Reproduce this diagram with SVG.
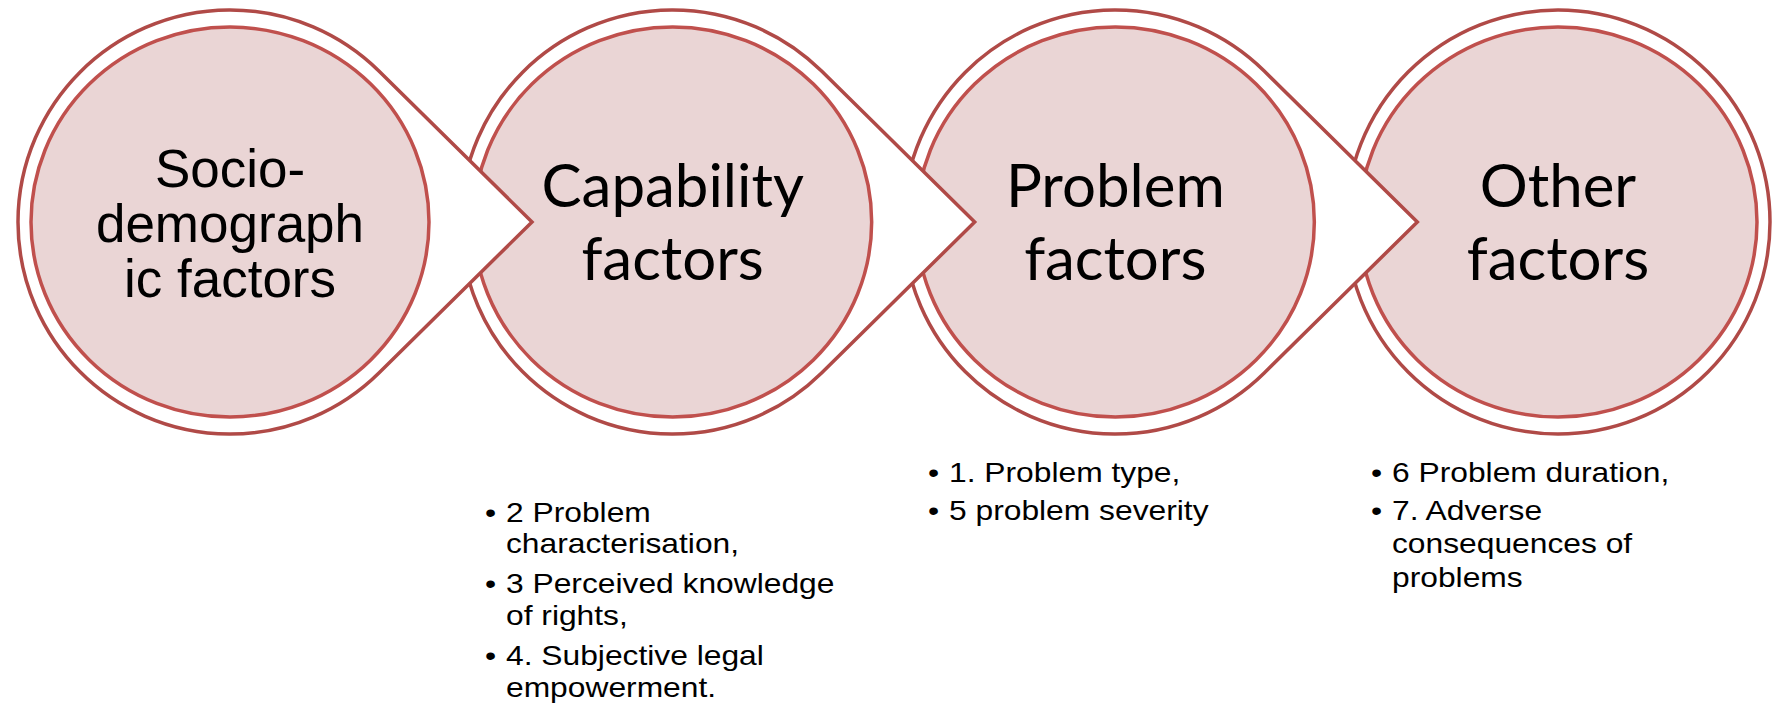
<svg xmlns="http://www.w3.org/2000/svg" width="1779" height="704" viewBox="0 0 1779 704">
<style>
.outer{fill:#FFFFFF;stroke:#B04A47;stroke-width:3.5;stroke-linejoin:miter}
.inner{fill:#EAD5D5;stroke:#C0504D;stroke-width:3.5}
.lbl{font-family:Lato,"Liberation Sans",sans-serif;font-size:60px;fill:#000;text-anchor:middle}
.lbla{font-family:"Liberation Sans",Arial,sans-serif;font-size:53px;fill:#000;text-anchor:middle}
.bul{font-family:"Liberation Sans",Arial,sans-serif;font-size:28px;fill:#000}
</style>
<rect width="1779" height="704" fill="#FFFFFF"/>
<g id="connectors"></g>
<g id="node4">
<circle class="outer" cx="1558" cy="222" r="212"/>
<ellipse class="inner" cx="1558" cy="222" rx="199" ry="195"/>
<text class="lbl" x="1558" y="207">Other</text>
<text class="lbl" x="1558" y="280">factors</text>
</g>
<g id="node3">
<path class="outer" d="M1264.23 71.1 L1417.33 222 L1264.23 372.9 A212 212 0 1 1 1264.23 71.1 Z"/>
<ellipse class="inner" cx="1115.33" cy="222" rx="199" ry="195"/>
<text class="lbl" x="1115.33" y="207">Problem</text>
<text class="lbl" x="1115.33" y="280">factors</text>
</g>
<g id="node2">
<path class="outer" d="M821.57 71.1 L974.67 222 L821.57 372.9 A212 212 0 1 1 821.57 71.1 Z"/>
<ellipse class="inner" cx="672.67" cy="222" rx="199" ry="195"/>
<text class="lbl" x="672.67" y="207">Capability</text>
<text class="lbl" x="672.67" y="280">factors</text>
</g>
<g id="node1">
<path class="outer" d="M378.9 71.1 L532 222 L378.9 372.9 A212 212 0 1 1 378.9 71.1 Z"/>
<ellipse class="inner" cx="230" cy="222" rx="199" ry="195"/>
<text class="lbla" x="230" y="187">Socio-</text>
<text class="lbla" x="230" y="242">demograph</text>
<text class="lbla" x="230" y="297">ic factors</text>
</g>
<g id="list2" transform="translate(485 0) scale(1.135 1)">
<text class="bul" x="0" y="522">•</text>
<text class="bul" x="18.5" y="522">2 Problem</text>
<text class="bul" x="18.5" y="553">characterisation,</text>
<text class="bul" x="0" y="593">•</text>
<text class="bul" x="18.5" y="593">3 Perceived knowledge</text>
<text class="bul" x="18.5" y="625">of rights,</text>
<text class="bul" x="0" y="665">•</text>
<text class="bul" x="18.5" y="665">4. Subjective legal</text>
<text class="bul" x="18.5" y="697">empowerment.</text>
</g>
<g id="list3" transform="translate(928 0) scale(1.135 1)">
<text class="bul" x="0" y="482">•</text>
<text class="bul" x="18.5" y="482">1. Problem type,</text>
<text class="bul" x="0" y="520">•</text>
<text class="bul" x="18.5" y="520">5 problem severity</text>
</g>
<g id="list4" transform="translate(1371 0) scale(1.135 1)">
<text class="bul" x="0" y="482">•</text>
<text class="bul" x="18.5" y="482">6 Problem duration,</text>
<text class="bul" x="0" y="520">•</text>
<text class="bul" x="18.5" y="520">7. Adverse</text>
<text class="bul" x="18.5" y="553">consequences of</text>
<text class="bul" x="18.5" y="587">problems</text>
</g>
</svg>
